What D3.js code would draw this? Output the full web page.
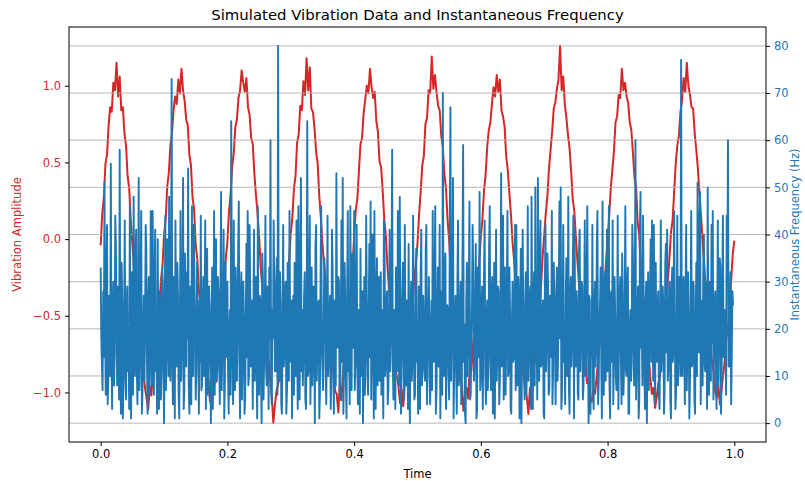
<!DOCTYPE html>
<html>
<head>
<meta charset="utf-8">
<script src="https://cdn.jsdelivr.net/npm/d3@7"></script>
<style>
  body { margin: 0; background: #fff; }
  svg { font-family: "DejaVu Sans", sans-serif; }
</style>
</head>
<body>
<div id="chart"></div>
<script>
// vibration amplitude, one sample every 0.0025 s (0 .. 1 s)
const ampStep = 0.0025;
const amplitude = [
  -0.04, 0.17, 0.27, 0.49, 0.55, 0.74, 0.86, 0.83, 1.02, 0.97, 1.15, 0.93, 1.06, 0.84, 0.86, 0.69, 0.61, 0.41, 0.33, 0.12,
  -0.03, -0.19, -0.28, -0.47, -0.62, -0.68, -0.85, -0.88, -0.97, -1.04, -1.11, -0.96, -1.02, -0.87, -0.83, -0.74, -0.55, -0.49, -0.27, -0.18,
  0.03, 0.12, 0.34, 0.43, 0.61, 0.69, 0.84, 0.93, 0.88, 1.04, 0.95, 1.11, 0.97, 0.90, 0.78, 0.74, 0.55, 0.48, 0.27, 0.19,
  -0.04, -0.13, -0.34, -0.42, -0.61, -0.73, -0.78, -0.93, -0.91, -1.06, -0.97, -1.01, -0.92, -0.93, -0.79, -0.69, -0.62, -0.43, -0.32, -0.12,
  -0.02, 0.18, 0.29, 0.47, 0.56, 0.73, 0.78, 0.92, 0.97, 1.10, 1.02, 0.96, 1.05, 0.86, 0.81, 0.66, 0.62, 0.43, 0.29, 0.17,
  0.02, -0.18, -0.31, -0.44, -0.56, -0.74, -0.79, -0.92, -1.02, -1.20, -1.08, -0.99, -0.95, -0.86, -0.84, -0.68, -0.60, -0.41, -0.33, -0.13,
  0.04, 0.14, 0.33, 0.41, 0.63, 0.68, 0.87, 0.84, 1.03, 0.94, 1.18, 0.97, 1.12, 0.85, 0.83, 0.72, 0.57, 0.49, 0.28, 0.14,
  -0.03, -0.16, -0.27, -0.48, -0.59, -0.71, -0.84, -0.87, -0.99, -1.01, -1.13, -0.94, -1.05, -0.88, -0.77, -0.73, -0.56, -0.46, -0.29, -0.17,
  0.01, 0.19, 0.26, 0.44, 0.62, 0.66, 0.82, 0.91, 1.00, 0.95, 1.11, 0.99, 0.92, 0.96, 0.77, 0.70, 0.51, 0.47, 0.32, 0.13,
  0.03, -0.17, -0.33, -0.41, -0.63, -0.67, -0.86, -0.89, -0.96, -1.07, -0.98, -1.09, -0.93, -0.85, -0.82, -0.66, -0.61, -0.42, -0.26, -0.16,
  -0.03, 0.16, 0.31, 0.48, 0.54, 0.75, 0.79, 0.97, 0.95, 1.19, 0.98, 1.07, 0.96, 0.87, 0.84, 0.67, 0.60, 0.42, 0.33, 0.12,
  -0.01, -0.21, -0.29, -0.46, -0.55, -0.72, -0.80, -0.93, -0.94, -1.12, -1.02, -0.97, -1.04, -0.83, -0.86, -0.70, -0.57, -0.48, -0.31, -0.14,
  0.02, 0.13, 0.32, 0.42, 0.60, 0.71, 0.76, 0.88, 0.99, 0.93, 1.07, 0.96, 1.04, 0.84, 0.80, 0.73, 0.54, 0.45, 0.30, 0.16,
  -0.02, -0.14, -0.32, -0.45, -0.60, -0.69, -0.83, -0.90, -0.98, -1.03, -1.14, -0.97, -1.00, -0.89, -0.80, -0.72, -0.53, -0.45, -0.30, -0.11,
  0.03, 0.17, 0.28, 0.46, 0.58, 0.70, 0.85, 0.89, 0.98, 1.04, 1.26, 0.97, 1.06, 0.88, 0.79, 0.68, 0.59, 0.44, 0.26, 0.18,
  0.01, -0.15, -0.30, -0.43, -0.64, -0.70, -0.79, -0.94, -0.92, -1.05, -1.06, -0.98, -1.01, -0.91, -0.78, -0.67, -0.63, -0.40, -0.34, -0.15,
  -0.01, 0.15, 0.33, 0.45, 0.57, 0.76, 0.80, 0.94, 0.92, 1.11, 0.97, 1.02, 0.93, 0.89, 0.76, 0.71, 0.56, 0.40, 0.34, 0.11,
  0.02, -0.19, -0.26, -0.47, -0.57, -0.73, -0.77, -0.91, -1.01, -0.97, -1.10, -1.03, -0.94, -0.90, -0.81, -0.71, -0.54, -0.47, -0.28, -0.13,
  0.04, 0.12, 0.30, 0.49, 0.61, 0.67, 0.83, 0.90, 1.05, 0.96, 1.15, 1.00, 0.94, 0.86, 0.85, 0.69, 0.58, 0.46, 0.29, 0.15,
  -0.02, -0.16, -0.34, -0.44, -0.58, -0.72, -0.81, -0.87, -1.00, -1.04, -0.96, -1.08, -0.97, -0.88, -0.79, -0.64, -0.59, -0.44, -0.27, -0.10,
  -0.01
];

// instantaneous frequency (Hz), one sample every 0.001 s
const freqStep = 0.001;
const frequency = [
  33, 18, 12, 7, 28, 14, 51, 20, 6, 31, 42, 4, 9, 27, 24, 10, 55, 16, 3, 22, 30, 8, 15, 44, 38, 19, 8, 29, 21, 5, 58, 13, 2, 34, 26, 1, 11, 23, 43, 9,
  5, 26, 29, 11, 17, 3, 46, 15, 1, 32, 22, 6, 48, 24, 10, 36, 41, 12, 4, 20, 52, 7, 14, 30, 45, 2, 7, 18, 27, 9, 19, 42, 37, 14, 2, 25, 31, 6, 13, 45,
  24, 8, 45, 21, 6, 30, 41, 11, 18, 2, 39, 16, 3, 28, 25, 5, 11, 33, 30, 13, 0, 22, 44, 7, 16, 39, 28, 10, 48, 19, 9, 26, 73, 14, 4, 31, 20, 1, 43, 17,
  12, 34, 27, 6, 1, 21, 45, 9, 15, 27, 52, 3, 7, 36, 23, 12, 32, 18, 54, 8, 2, 29, 19, 4, 46, 15, 10, 42, 29, 20, 5, 11, 34, 24, 17, 2, 26, 13, 44, 7,
  8, 25, 31, 10, 21, 43, 3, 17, 37, 6, 14, 29, 25, 12, 0, 20, 33, 3, 18, 45, 6, 24, 39, 9, 11, 31, 28, 15, 4, 26, 49, 7, 16, 22, 41, 1, 9, 34, 22, 14,
  30, 11, 2, 19, 24, 6, 64, 28, 13, 4, 43, 16, 7, 33, 27, 9, 19, 37, 47, 13, 1, 25, 32, 5, 15, 30, 23, 2, 5, 21, 38, 14, 45, 8, 10, 42, 29, 12, 17, 26,
  3, 23, 41, 9, 20, 31, 12, 1, 46, 17, 6, 27, 26, 10, 0, 36, 31, 5, 14, 22, 44, 12, 8, 29, 22, 3, 33, 18, 60, 7, 4, 24, 18, 43, 28, 11, 11, 30, 35, 6,
  80, 15, 9, 32, 25, 4, 2, 20, 42, 12, 16, 28, 30, 2, 7, 34, 21, 9, 45, 16, 13, 26, 1, 19, 27, 6, 34, 13, 10, 43, 19, 3, 46, 22, 5, 30, 52, 11, 24, 8,
  15, 27, 32, 5, 3, 18, 64, 10, 11, 29, 44, 4, 20, 33, 8, 14, 29, 21, 0, 38, 42, 9, 17, 25, 26, 1, 6, 31, 46, 16, 12, 7, 23, 35, 31, 12, 4, 20, 44, 10,
  14, 24, 27, 3, 9, 41, 33, 15, 2, 26, 21, 8, 53, 17, 16, 31, 30, 6, 5, 22, 43, 13, 52, 2, 11, 34, 25, 9, 1, 28, 45, 11, 18, 4, 46, 19, 7, 36, 28, 16,
  45, 7, 13, 30, 42, 12, 4, 24, 22, 2, 37, 19, 10, 28, 0, 15, 31, 6, 17, 44, 26, 10, 6, 23, 38, 14, 47, 5, 15, 40, 29, 1, 45, 18, 3, 27, 35, 8, 20, 31,
  9, 21, 32, 6, 24, 14, 1, 43, 39, 10, 12, 26, 28, 4, 7, 19, 41, 11, 18, 30, 58, 13, 5, 24, 23, 3, 33, 17, 11, 45, 40, 8, 48, 22, 2, 12, 27, 34, 16, 5,
  42, 15, 8, 26, 21, 3, 38, 12, 0, 24, 30, 9, 14, 44, 25, 5, 6, 20, 37, 13, 19, 2, 29, 16, 3, 32, 41, 8, 12, 27, 22, 11, 9, 37, 42, 4, 17, 23, 31, 10,
  4, 19, 26, 7, 45, 16, 13, 29, 46, 2, 7, 22, 33, 12, 20, 42, 1, 14, 28, 6, 70, 18, 10, 31, 36, 3, 15, 25, 24, 10, 5, 44, 67, 9, 18, 28, 52, 1, 11, 21,
  27, 12, 2, 30, 43, 8, 14, 23, 30, 4, 8, 35, 59, 13, 21, 2, 0, 26, 34, 10, 16, 29, 47, 5, 6, 18, 25, 42, 32, 9, 12, 24, 38, 1, 3, 33, 23, 14, 49, 7,
  10, 25, 29, 3, 18, 32, 43, 11, 4, 20, 26, 7, 13, 37, 46, 15, 7, 27, 31, 2, 20, 34, 1, 16, 41, 9, 15, 29, 28, 4, 9, 22, 53, 12, 22, 44, 5, 18, 33, 6,
  17, 28, 45, 10, 11, 33, 24, 3, 2, 21, 30, 13, 14, 26, 42, 7, 42, 17, 8, 31, 27, 1, 19, 37, 0, 14, 41, 23, 12, 5, 25, 32, 6, 19, 46, 9, 16, 27, 29, 3,
  48, 20, 3, 24, 32, 8, 50, 15, 21, 5, 52, 26, 9, 33, 43, 12, 13, 22, 26, 2, 1, 30, 42, 11, 18, 36, 30, 6, 7, 27, 23, 14, 45, 4, 11, 34, 28, 17, 4, 25,
  33, 9, 15, 29, 47, 18, 50, 3, 6, 22, 42, 13, 20, 4, 27, 35, 10, 19, 48, 7, 2, 26, 31, 12, 17, 32, 44, 1, 41, 16, 12, 28, 24, 6, 5, 37, 41, 11, 19, 30,
  29, 5, 8, 23, 43, 10, 14, 31, 46, 18, 0, 27, 26, 2, 21, 14, 42, 8, 3, 25, 30, 12, 16, 38, 45, 4, 9, 21, 25, 33, 13, 1, 47, 19, 6, 28, 32, 9, 20, 41,
  11, 22, 46, 8, 1, 26, 28, 13, 43, 4, 15, 31, 23, 10, 7, 18, 44, 3, 18, 27, 31, 14, 4, 36, 27, 6, 12, 24, 46, 11, 10, 30, 33, 2, 2, 20, 24, 9, 17, 42,
  35, 12, 8, 27, 60, 5, 14, 21, 29, 1, 5, 41, 49, 16, 20, 8, 44, 24, 11, 3, 26, 30, 0, 18, 32, 7, 16, 28, 39, 13, 43, 19, 9, 42, 22, 4, 34, 15, 13, 25,
  28, 6, 3, 20, 43, 11, 19, 29, 25, 2, 7, 34, 38, 15, 41, 9, 12, 23, 30, 5, 1, 28, 33, 13, 17, 45, 24, 3, 6, 19, 44, 8, 14, 31, 27, 10, 77, 21, 10, 26,
  31, 14, 4, 27, 42, 7, 18, 32, 22, 1, 9, 24, 45, 12, 13, 30, 29, 5, 2, 19, 34, 10, 51, 16, 15, 43, 49, 4, 26, 21, 8, 33, 40, 13, 11, 25, 30, 3, 50, 18,
  6, 30, 23, 9, 42, 17, 45, 5, 16, 26, 28, 11, 3, 22, 43, 8, 19, 35, 33, 2, 10, 29, 44, 14, 14, 24, 21, 6, 44, 31, 60, 12, 12, 20, 32, 4, 15, 28, 25
];

const timeTicks = [0, 0.2, 0.4, 0.6, 0.8, 1.0];
const ampTicks = [-1.0, -0.5, 0.0, 0.5, 1.0];
const freqTicks = [0, 10, 20, 30, 40, 50, 60, 70, 80];

const redColor = '#d62728';
const blueColor = '#1f77b4';

const width = 805, height = 481;
const margin = { top: 27, right: 39, bottom: 39, left: 69 };
const innerW = width - margin.left - margin.right;
const innerH = height - margin.top - margin.bottom;

// matplotlib-like 5% padding around the data range
function padded(ext) {
  const p = (ext[1] - ext[0]) * 0.05;
  return [ext[0] - p, ext[1] + p];
}

const ampPoints = amplitude.map((v, i) => ({ t: i * ampStep, v: v }));
const freqPoints = frequency.map((v, i) => ({ t: i * freqStep, v: v }));

const xScale = d3.scaleLinear()
  .domain(padded([0, 1]))
  .range([0, innerW]);

const yAmp = d3.scaleLinear()
  .domain(padded(d3.extent(amplitude)))
  .range([innerH, 0]);

const yFreq = d3.scaleLinear()
  .domain(padded(d3.extent(frequency)))
  .range([innerH, 0]);

const svg = d3.select('#chart').append('svg')
  .attr('width', width)
  .attr('height', height);

const chart = svg.append('g')
  .attr('transform', `translate(${margin.left}, ${margin.top})`);

// red amplitude line (first axes)
chart.append('path')
  .datum(ampPoints)
  .attr('fill', 'none')
  .attr('stroke', redColor)
  .attr('stroke-width', 2)
  .attr('stroke-linejoin', 'round')
  .attr('d', d3.line().x(d => xScale(d.t)).y(d => yAmp(d.v)));

// horizontal grid from the frequency axis
chart.append('g')
  .selectAll('line')
  .data(freqTicks)
  .enter()
  .append('line')
  .attr('x1', 0)
  .attr('x2', innerW)
  .attr('y1', d => yFreq(d))
  .attr('y2', d => yFreq(d))
  .attr('stroke', '#b0b0b0')
  .attr('stroke-width', 0.9);

// blue frequency line (twin axes)
chart.append('path')
  .datum(freqPoints)
  .attr('fill', 'none')
  .attr('stroke', blueColor)
  .attr('stroke-width', 1.9)
  .attr('stroke-linejoin', 'round')
  .attr('d', d3.line().x(d => xScale(d.t)).y(d => yFreq(d.v)));

// spines
chart.append('rect')
  .attr('width', innerW)
  .attr('height', innerH)
  .attr('fill', 'none')
  .attr('stroke', '#000')
  .attr('stroke-width', 1);

function styleAxis(g, color) {
  g.select('.domain').remove();
  g.selectAll('.tick line').attr('stroke', '#000').attr('stroke-width', 1);
  g.selectAll('.tick text')
    .attr('fill', color)
    .style('font-size', '11.5px')
    .style('font-family', '"DejaVu Sans", sans-serif');
}

chart.append('g')
  .attr('transform', `translate(0, ${innerH})`)
  .call(d3.axisBottom(xScale).tickValues(timeTicks).tickFormat(d3.format('.1f')).tickSize(4).tickPadding(4))
  .call(g => styleAxis(g, '#000'));

chart.append('g')
  .call(d3.axisLeft(yAmp).tickValues(ampTicks).tickFormat(d3.format('.1f')).tickSize(4).tickPadding(4))
  .call(g => styleAxis(g, redColor));

chart.append('g')
  .attr('transform', `translate(${innerW}, 0)`)
  .call(d3.axisRight(yFreq).tickValues(freqTicks).tickFormat(d3.format('d')).tickSize(4).tickPadding(4))
  .call(g => styleAxis(g, blueColor));

// title and axis labels
svg.append('text')
  .attr('x', margin.left + innerW / 2)
  .attr('y', 20)
  .attr('text-anchor', 'middle')
  .style('font-size', '14.9px')
  .text('Simulated Vibration Data and Instantaneous Frequency');

svg.append('text')
  .attr('x', margin.left + innerW / 2)
  .attr('y', 478)
  .attr('text-anchor', 'middle')
  .style('font-size', '11.5px')
  .text('Time');

svg.append('text')
  .attr('transform', `translate(21, ${margin.top + innerH / 2}) rotate(-90)`)
  .attr('text-anchor', 'middle')
  .attr('fill', redColor)
  .style('font-size', '11.5px')
  .text('Vibration Amplitude');

svg.append('text')
  .attr('transform', `translate(799, ${margin.top + innerH / 2}) rotate(-90)`)
  .attr('text-anchor', 'middle')
  .attr('fill', blueColor)
  .style('font-size', '11.5px')
  .text('Instantaneous Frequency (Hz)');
</script>
</body>
</html>
